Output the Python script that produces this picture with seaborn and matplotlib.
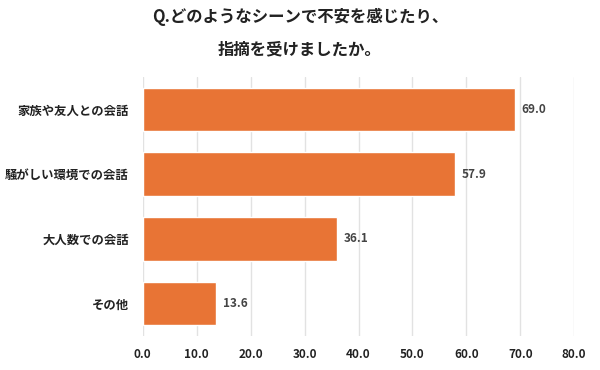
#!/usr/bin/env python3
"""不安を感じたシーン — 横棒グラフ."""

import matplotlib
matplotlib.use("Agg")
import matplotlib.pyplot as plt
import pandas as pd
import seaborn as sns

CATEGORIES = ["家族や友人との会話", "騒がしい環境での会話", "大人数での会話", "その他"]
VALUES = [69.0, 57.9, 36.1, 13.6]
X_TICKS = [0, 10, 20, 30, 40, 50, 60, 70, 80]
TITLE = "Q.どのようなシーンで不安を感じたり、\n指摘を受けましたか。"

BAR_COLOR = "#E87435"


def main() -> int:
    sns.set_theme(style="white")
    plt.rcParams["font.family"] = ["Noto Sans CJK JP", "DejaVu Sans"]

    df = pd.DataFrame({"scene": CATEGORIES, "pct": VALUES})

    fig = plt.figure(figsize=(6, 3.7), dpi=100)
    ax = fig.add_axes([0.238, 0.092, 0.719, 0.70])

    sns.barplot(data=df, x="pct", y="scene", color=BAR_COLOR, saturation=1,
                width=0.67, ax=ax, zorder=2)

    ax.set_xlim(0, 80)
    ax.set_xticks(X_TICKS)
    ax.set_xticklabels([f"{t:.1f}" for t in X_TICKS], fontsize=8.5,
                       fontweight="bold", color="#222222")
    ax.set_yticklabels(CATEGORIES, fontsize=8.9, fontweight="bold", color="#222222")
    ax.set_xlabel("")
    ax.set_ylabel("")
    ax.tick_params(axis="both", length=0)
    ax.tick_params(axis="x", pad=9)
    ax.tick_params(axis="y", pad=10)
    ax.grid(axis="x", color="#e2e2e2", linewidth=1, zorder=0)
    for s in ax.spines.values():
        s.set_visible(False)

    for i, v in enumerate(VALUES):
        ax.text(v + 1.2, i, f"{v:.1f}", va="center", ha="left",
                fontsize=8.5, fontweight="bold", color="#444444")

    fig.text(0.5, 0.91, TITLE, ha="center", va="center", fontsize=11.8,
             fontweight="bold", color="#222222", linespacing=2.05)

    fig.savefig("out.png", dpi=100)
    plt.close(fig)
    return 0


if __name__ == "__main__":
    raise SystemExit(main())
